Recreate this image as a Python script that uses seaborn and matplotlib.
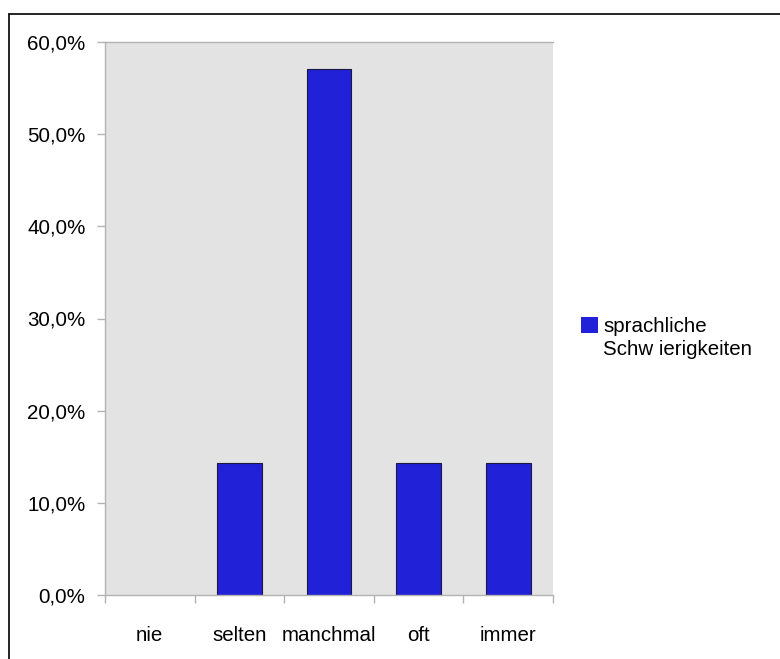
import matplotlib
matplotlib.use("Agg")
import matplotlib.pyplot as plt
import seaborn as sns
import pandas as pd
from matplotlib.ticker import FuncFormatter
from matplotlib.lines import Line2D

# Data
categories = ["nie", "selten", "manchmal", "oft", "immer"]
values = [0.0, 14.3, 57.1, 14.3, 14.3]
series_name = "sprachliche\nSchw ierigkeiten"

df = pd.DataFrame({"Kategorie": categories, "Anteil": values})

sns.set_style("white")
plt.rcParams['font.family'] = ['Liberation Sans', 'DejaVu Sans']

W, H = 780, 659
fig = plt.figure(figsize=(W / 100, H / 100), dpi=100)
ax = fig.add_axes([105 / W, 1 - 595 / H, (553 - 105) / W, (595 - 42) / H])
ax.set_facecolor("#e3e3e3")

bar_color = "#2121d8"
sns.barplot(data=df, x="Kategorie", y="Anteil", color=bar_color, width=0.5,
            edgecolor="#1a1a40", linewidth=0.8, saturation=1, ax=ax,
            label=series_name)
# no outline for the empty bar
for p in ax.patches:
    if p.get_height() == 0:
        p.set_linewidth(0)

ax.set_xlim(-0.5, len(categories) - 0.5)
ax.set_ylim(0, 60)
ax.set_yticks(range(0, 61, 10))
ax.yaxis.set_major_formatter(FuncFormatter(lambda v, p: f"{v:.1f}".replace(".", ",") + "%"))

# category boundaries as ticks, labels in the middle
ax.set_xticks([i - 0.5 for i in range(len(categories) + 1)])
ax.set_xticklabels([])
ax.set_xticks(range(len(categories)), minor=True)
ax.set_xticklabels(categories, minor=True)
fs = 14.8
ax.tick_params(axis="x", which="major", length=6, color="#b3b3b3", width=1, direction="out")
ax.tick_params(axis="x", which="minor", length=0, pad=22, labelsize=fs, labelcolor="black")
ax.tick_params(axis="y", length=6, color="#b3b3b3", width=1, direction="out", pad=8,
               labelsize=fs, labelcolor="black")
ax.tick_params(bottom=True, left=True)
ax.set_xlabel("")
ax.set_ylabel("")

for side in ["left", "bottom", "top"]:
    ax.spines[side].set_visible(True)
    ax.spines[side].set_color("#b3b3b3")
    ax.spines[side].set_linewidth(1)
ax.spines["right"].set_visible(False)

leg = ax.legend(loc="center left", bbox_to_anchor=(1.022, 0.465), frameon=False, fontsize=fs,
                handlelength=0.8, handleheight=0.8, handletextpad=0.25)
for t in leg.get_texts():
    t.set_linespacing(1.25)
    t.set_color("black")
# marker next to the first line of the label
for col in leg._legend_handle_box.get_children():
    for item in col.get_children():
        item.align = "top"

# frame line at top and left of the picture
fig.add_artist(Line2D([9 / W, 1], [1 - 14 / H, 1 - 14 / H], color="black", lw=1.2))
fig.add_artist(Line2D([9 / W, 9 / W], [0, 1 - 14 / H], color="black", lw=1.2))

fig.savefig("out.png", dpi=100)
